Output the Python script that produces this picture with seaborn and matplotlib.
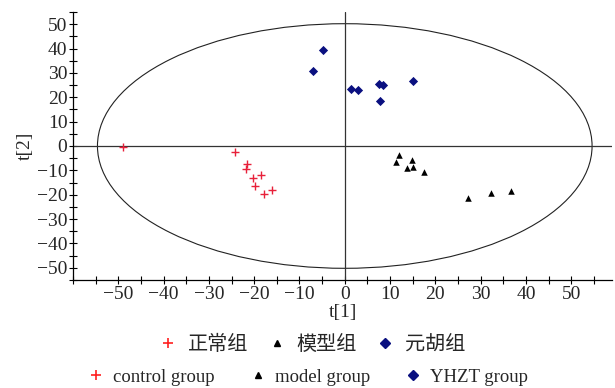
import numpy as np
import pandas as pd
import matplotlib
matplotlib.use("Agg")
import matplotlib.pyplot as plt
from matplotlib.patches import Ellipse
from matplotlib.lines import Line2D
from matplotlib.ticker import MultipleLocator
import seaborn as sns

# ---- data ----
control_t1 = [-48.9, -24.2, -21.6, -21.7, -20.3, -18.4, -19.8, -17.9, -16.0]
control_t2 = [-0.5, -2.6, -7.5, -9.5, -13.2, -12.1, -16.6, -19.6, -18.2]
model_t1 = [12.0, 11.4, 14.8, 13.8, 15.1, 17.5, 27.1, 32.2, 36.8]
model_t2 = [-3.6, -6.6, -5.9, -9.2, -8.5, -10.7, -21.4, -19.2, -18.4]
yhzt_t1 = [-4.9, -7.1, 1.3, 2.9, 7.5, 8.4, 7.8, 15.0]
yhzt_t2 = [39.6, 30.6, 23.2, 22.8, 25.5, 25.1, 18.3, 26.6]
ellipse_a = 54.6
ellipse_b = 50.2
groups_cn = ["正常组", "模型组", "元胡组"]
groups_en = ["control group", "model group", "YHZT group"]

df = pd.DataFrame({
    "t1": control_t1 + model_t1 + yhzt_t1,
    "t2": control_t2 + model_t2 + yhzt_t2,
    "group": [groups_en[0]] * len(control_t1) + [groups_en[1]] * len(model_t1)
             + [groups_en[2]] * len(yhzt_t1),
})

sns.set_style("ticks")
plt.rcParams["font.family"] = ["Liberation Serif", "Noto Sans CJK SC"]

fig = plt.figure(figsize=(6.15, 3.88), dpi=100)
ax = fig.add_axes([73 / 615, (388 - 280) / 388, (612 - 73) / 615, (280 - 12) / 388])

colors = {groups_en[0]: "#e8203a", groups_en[1]: "#000000", groups_en[2]: "#0a1080"}
markers = {groups_en[0]: "+", groups_en[1]: "^", groups_en[2]: "D"}
sizes = {groups_en[0]: 30, groups_en[1]: 22, groups_en[2]: 22}

for g in groups_en:
    sub = df[df["group"] == g]
    kw = dict(linewidth=1.0) if markers[g] == "+" else dict(linewidth=0)
    sns.scatterplot(data=sub, x="t1", y="t2", color=colors[g], marker=markers[g],
                    s=sizes[g], ax=ax, legend=False, zorder=3, **kw)

ax.add_patch(Ellipse((0, 0), 2 * ellipse_a, 2 * ellipse_b, fill=False,
                     edgecolor="#222222", linewidth=0.8))
ax.axhline(0, color="#333333", linewidth=0.9)
ax.axvline(0, color="#333333", linewidth=0.9)

ax.set_xlim(-60, 59)
ax.set_ylim(-55, 55)
ax.set_xticks(np.arange(-50, 51, 10))
ax.set_yticks(np.arange(-50, 51, 10))
ax.xaxis.set_minor_locator(MultipleLocator(5))
ax.yaxis.set_minor_locator(MultipleLocator(5))
ax.set_xticklabels([f"{v}".replace("-", "\u2212") for v in range(-50, 51, 10)])
ax.set_yticklabels([f"{v}".replace("-", "\u2212") for v in range(-50, 51, 10)])
ax.tick_params(axis="both", which="both", direction="inout", length=6, width=0.8,
               color="black", labelsize=14, pad=1)
for s in ["top", "right"]:
    ax.spines[s].set_visible(False)
for s in ["left", "bottom"]:
    ax.spines[s].set_color("black")
    ax.spines[s].set_linewidth(0.9)

ax.set_xlabel("t[1]", fontsize=14, labelpad=1)
ax.set_ylabel("t[2]", fontsize=14, labelpad=2)

def handles():
    return [
        Line2D([], [], linestyle="none", marker="+", color="#ff2020", markersize=7, markeredgewidth=1.2),
        Line2D([], [], linestyle="none", marker="^", color="black", markersize=5),
        Line2D([], [], linestyle="none", marker="D", color="#0a1080", markersize=5),
    ]

fig.legend(handles(), groups_cn, loc="center", bbox_to_anchor=(0.507, 0.113), ncol=3,
           frameon=False, handlelength=1.0, handletextpad=0.5,
           columnspacing=0.9, prop={"family": ["Noto Sans CJK SC"], "size": 14.5})
fig.legend(handles(), groups_en, loc="center", bbox_to_anchor=(0.50, 0.028), ncol=3,
           frameon=False, handlelength=1.0, handletextpad=0.4,
           columnspacing=1.8, prop={"family": ["Liberation Serif"], "size": 13.5})

fig.savefig("out.png", dpi=100)
